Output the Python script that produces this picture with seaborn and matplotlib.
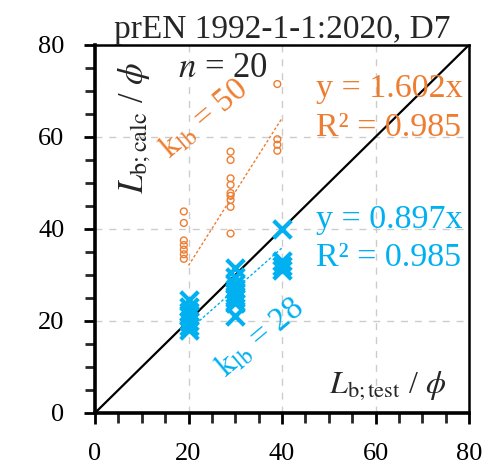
import numpy as np
import pandas as pd
import matplotlib
matplotlib.use("Agg")
import matplotlib.pyplot as plt
import seaborn as sns

# ---- data ----
calc_x = [19, 19, 19, 19, 19, 19, 19,
          29, 29, 29, 29, 29, 29, 29, 29, 29,
          39, 39, 39, 39]
calc_y = [43.8, 41.3, 37.5, 36.5, 35.5, 34.5, 33.5,
          56.8, 55.0, 51.0, 49.6, 47.8, 47.2, 46.3, 44.8, 39.0,
          71.5, 59.5, 58.3, 57.0]
k28_x = [20, 20, 20, 20, 20, 20, 20,
         30, 30, 30, 30, 30, 30, 30, 30, 30,
         40, 40, 40, 40]
k28_y = [24.5, 23.0, 22.0, 21.0, 20.0, 19.0, 18.0,
         31.5, 29.5, 28.0, 27.0, 26.0, 25.5, 25.0, 24.0, 21.0,
         40.0, 33.0, 32.0, 31.0]
slope_50 = 1.602
slope_28 = 0.897
r2_50 = 0.985
r2_28 = 0.985
fit_range = [20, 40]
n_tests = 20

ORANGE = "#ED7D31"
BLUE = "#00B0F0"

sns.set_style("white")
plt.rcParams["font.family"] = ["Liberation Serif", "DejaVu Serif"]
plt.rcParams["mathtext.fontset"] = "stix"

df50 = pd.DataFrame({"x": calc_x, "y": calc_y})
df28 = pd.DataFrame({"x": k28_x, "y": k28_y})

fig = plt.figure(figsize=(5.0, 4.73), dpi=100)
ax = fig.add_axes([0.19, 0.127, 0.748, 0.778])

ax.set_xlim(0, 80)
ax.set_ylim(0, 80)
ax.set_xticks([0, 20, 40, 60, 80])
ax.set_yticks([0, 20, 40, 60, 80])
ax.set_xticks(np.arange(0, 81, 5), minor=True)
ax.set_yticks(np.arange(0, 81, 5), minor=True)
ax.grid(True, which="major", linestyle=(0, (5, 5)), color="#cccccc", linewidth=1.0)
ax.set_axisbelow(True)

# 1:1 line
ax.plot([0, 80], [0, 80], color="black", linewidth=1.6, zorder=2)

sns.scatterplot(data=df50, x="x", y="y", ax=ax, marker="o", s=24,
                facecolor="none", edgecolor=ORANGE, linewidth=1.0, zorder=3)
sns.scatterplot(data=df28, x="x", y="y", ax=ax, marker="x", s=160,
                color=BLUE, linewidth=3.0, zorder=3)

fx = np.array(fit_range, dtype=float)
ax.plot(fx, slope_50 * fx, color=ORANGE, linestyle=(0, (2, 1.5)), linewidth=1.0, zorder=2)
ax.plot(fx, slope_28 * fx, color=BLUE, linestyle=(0, (2, 1.5)), linewidth=1.0, zorder=2)

ax.set_xlabel("")
ax.set_ylabel("")

for s in ax.spines.values():
    s.set_visible(True)
    s.set_color("black")
    s.set_linewidth(1.8)
ax.spines["left"].set_linewidth(2.6)
ax.spines["bottom"].set_linewidth(2.6)

ax.tick_params(axis="both", which="major", direction="out", length=8, width=2,
               labelsize=19, pad=14, colors="black", left=True, bottom=True)
ax.tick_params(axis="both", which="minor", direction="out", length=7, width=2,
               left=True, bottom=True)
ax.tick_params(axis="x", which="major", pad=14)

ax.set_title("prEN 1992-1-1:2020, D7", fontsize=24, pad=4)

ax.text(27.4, 74.8, r"$n$ = %d" % n_tests, fontsize=25, ha="center", va="center")
ax.text(8.5, 62, r"$L_{\mathrm{b;calc}}$ / $\phi$", fontsize=25, rotation=90,
        ha="center", va="center")
ax.text(62.5, 6.0, r"$L_{\mathrm{b;test}}$ / $\phi$", fontsize=23,
        ha="center", va="center")

ax.text(47.3, 70.5, "y = %.3fx" % slope_50, fontsize=24.5, color=ORANGE, ha="left", va="center")
ax.text(47.3, 62.0, "R² = %.3f" % r2_50, fontsize=24.5, color=ORANGE, ha="left", va="center")
ax.text(47.3, 42.0, "y = %.3fx" % slope_28, fontsize=24.5, color=BLUE, ha="left", va="center")
ax.text(47.3, 33.7, "R² = %.3f" % r2_28, fontsize=24.5, color=BLUE, ha="left", va="center")

ax.text(23.3, 64.0, r"$\mathrm{k}_{\mathrm{lb}}$ = 50", fontsize=23.5, color=ORANGE,
        rotation=40, ha="center", va="center", rotation_mode="anchor")
ax.text(35.3, 16.3, r"$\mathrm{k}_{\mathrm{lb}}$ = 28", fontsize=23.5, color=BLUE,
        rotation=40, ha="center", va="center", rotation_mode="anchor")

fig.savefig("out.png", dpi=100)
